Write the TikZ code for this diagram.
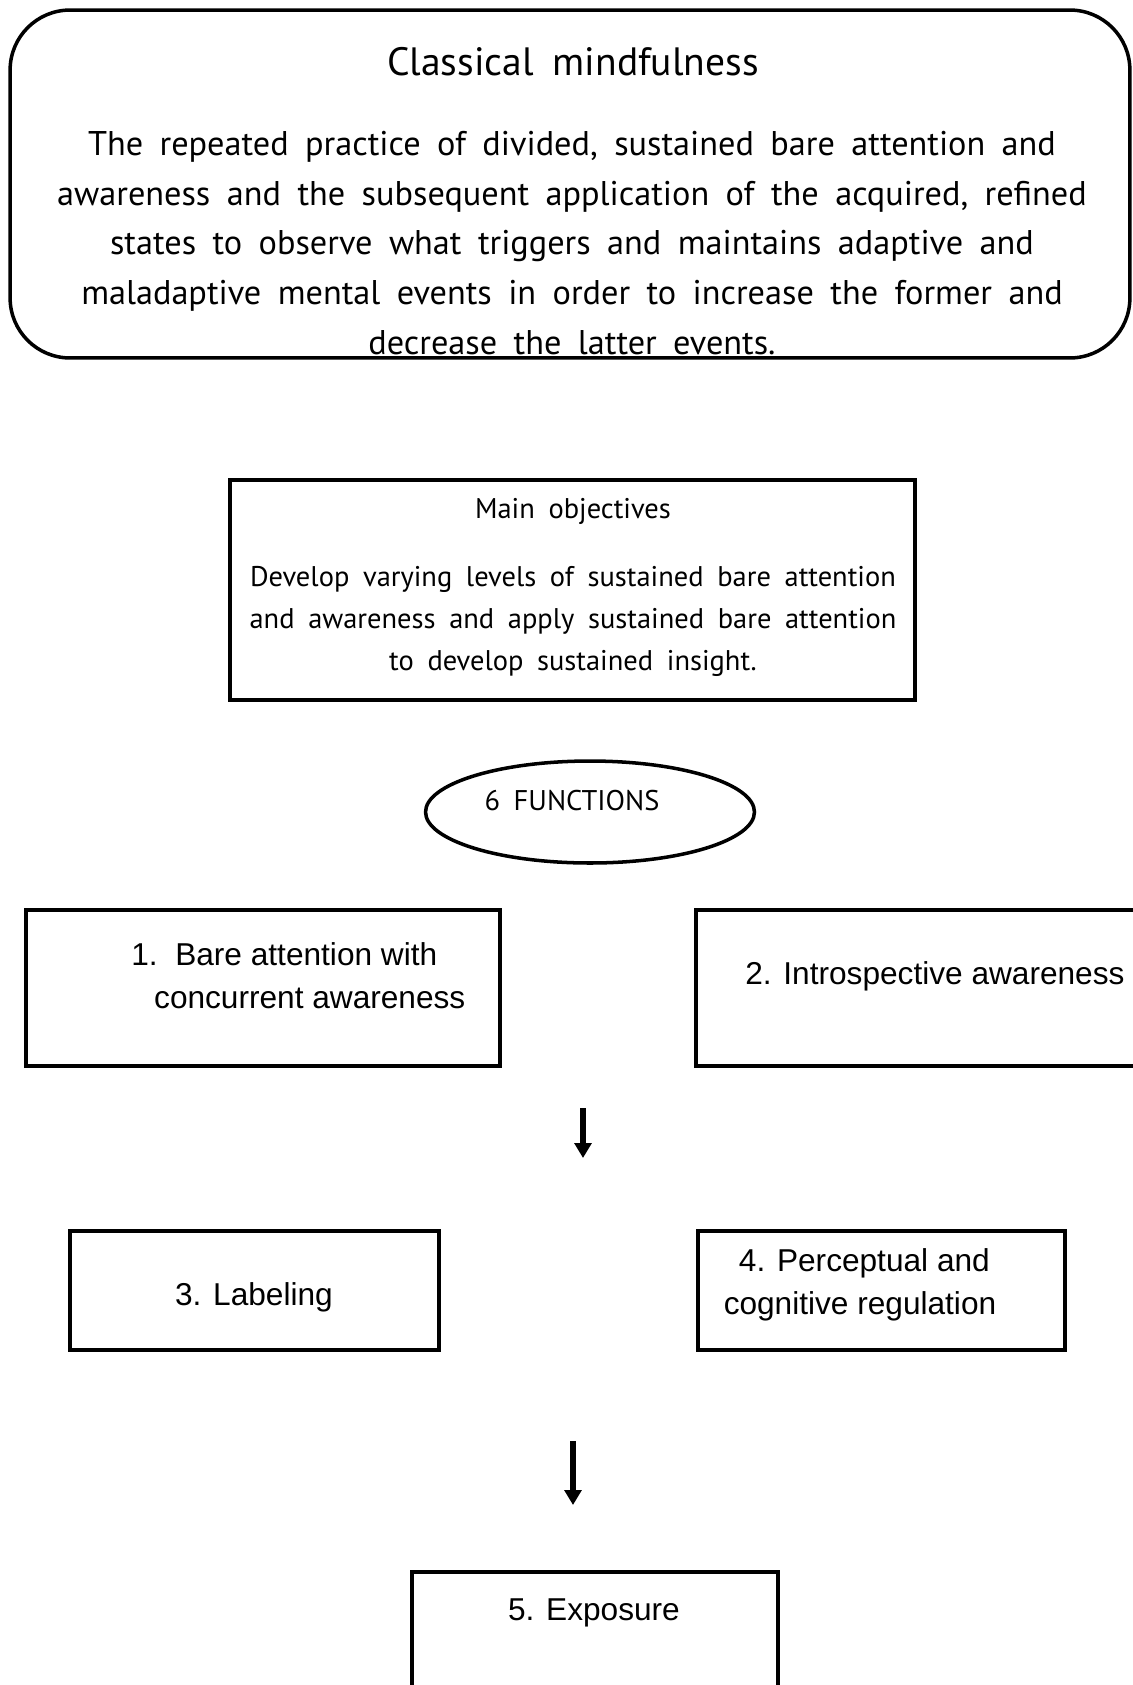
\documentclass[tikz,border=0pt]{standalone}
\usepackage{fontspec}
\usepackage{tikz}
\usetikzlibrary{positioning,shapes.geometric,arrows.meta}
\newfontfamily\thaifont[WordSpace=1.8]{PT Sans}
\newfontfamily\arialfont{Liberation Sans}

\begin{document}
\begin{tikzpicture}[x=0.02cm,y=-0.02cm,
  box/.style={draw,line width=2pt,inner sep=0pt,outer sep=0pt},
  thai/.style={font=\thaifont\fontsize{19.5}{28.2}\selectfont,inner sep=0pt},
  smallthai/.style={font=\thaifont\fontsize{16.2}{23.9}\selectfont,inner sep=0pt},
  func/.style={font=\arialfont\fontsize{18}{24.5}\selectfont,inner sep=0pt},
  arr/.style={line width=3.6pt,-{Triangle[width=9.5pt,length=8.5pt]}}]
\useasboundingbox (0,0) rectangle (1133,1685);
\node[box,rounded corners=1.2cm,minimum width=22.4cm,minimum height=6.96cm] (classic) at (570,184) {};
\node[thai,font=\thaifont\fontsize{22.5}{28}\selectfont] (classictitle) at (573,62) {Classical mindfulness};
\node[thai,align=center] (classictext) at (572,243) {The repeated practice of divided, sustained bare attention and\\
  awareness and the subsequent application of the acquired, refined\\
  states to observe what triggers and maintains adaptive and\\
  maladaptive mental events in order to increase the former and\\
  decrease the latter events.};
\node[box,minimum width=13.7cm,minimum height=4.4cm] (objectives) at (572.5,590) {};
\node[smallthai] (objtitle) at (573,511) {Main objectives};
\node[smallthai,align=center] (objtext) at (573,621) {Develop varying levels of sustained bare attention\\
  and awareness and apply sustained bare attention\\
  to develop sustained insight.};
\node[box,ellipse,minimum width=6.58cm,minimum height=2.04cm] (functions) at (590,812) {};
\node[smallthai] (funtitle) at (572,801) {6 FUNCTIONS};
\node[box,minimum width=9.48cm,minimum height=3.12cm] (f1) at (263,988) {};
\node[box,minimum width=9.28cm,minimum height=3.12cm] (f2) at (928,988) {};
\node[box,minimum width=7.38cm,minimum height=2.38cm] (f3) at (254.5,1290.5) {};
\node[box,minimum width=7.34cm,minimum height=2.38cm] (f4) at (881.5,1290.5) {};
\node[box,minimum width=7.32cm,minimum height=2.96cm] (f5) at (595,1646) {};
\node[func,anchor=west,align=left] (f1text) at (131,976) {1.\hspace{10pt}Bare attention with\\\hspace*{13pt}concurrent awareness};
\node[func,anchor=west] (f2text) at (745,976) {2. Introspective awareness};
\node[func] (f3text) at (254,1297) {3. Labeling};
\node[func,align=center] (f4text) at (860,1285) {\ 4. Perceptual and\\cognitive regulation};
\node[func] (f5text) at (594,1613) {5. Exposure};
\coordinate (a1top) at (583,1108);
\coordinate (a1tip) at (583,1158);
\coordinate (a2top) at (573,1441);
\coordinate (a2tip) at (573,1505);
\draw[arr] (a1top) -- (a1tip);
\draw[arr] (a2top) -- (a2tip);
\end{tikzpicture}
\end{document}
